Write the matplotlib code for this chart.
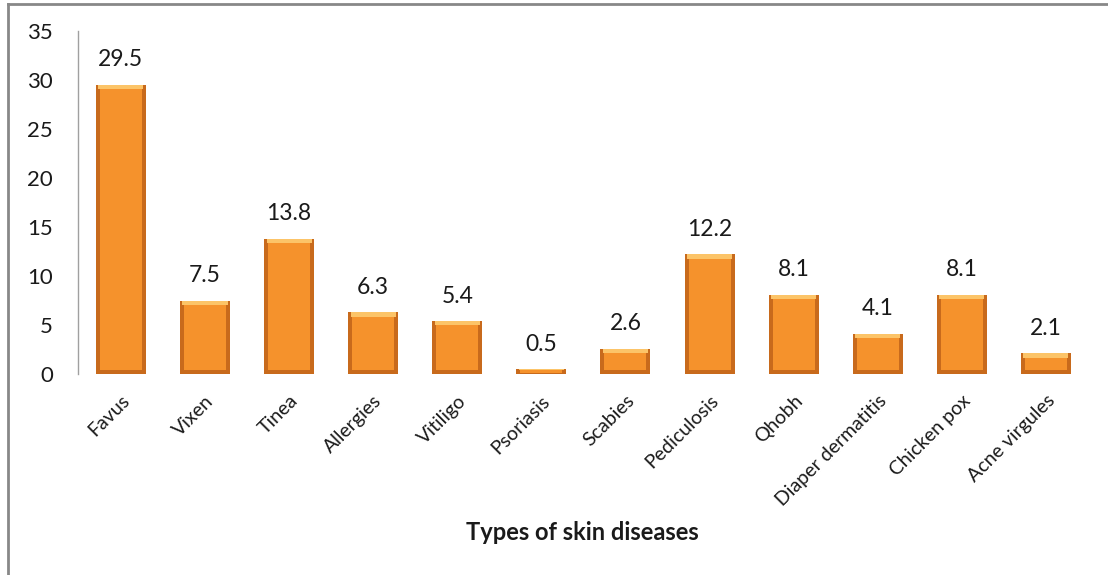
import matplotlib.pyplot as plt
import matplotlib.lines as mlines

diseases = ["Favus", "Vixen", "Tinea", "Allergies", "Vitiligo", "Psoriasis",
            "Scabies", "Pediculosis", "Qhobh", "Diaper dermatitis",
            "Chicken pox", "Acne virgules"]
percent = [29.5, 7.5, 13.8, 6.3, 5.4, 0.5, 2.6, 12.2, 8.1, 4.1, 8.1, 2.1]
y_ticks = [0, 5, 10, 15, 20, 25, 30, 35]

plt.rcParams['font.family'] = ['Lato', 'DejaVu Sans']

fig = plt.figure(figsize=(11.08, 5.75), dpi=100)
ax = fig.add_axes([78 / 1108, 1 - 374 / 575, 1010 / 1108, 343 / 575])

x = list(range(len(diseases)))
w = 0.595

# bevelled look: dark outer bar, brighter inner body, light top strip
ax.bar(x, percent, width=w, color='#C86A1C', zorder=2)
inset = [min(0.45, v * 0.25) for v in percent]
ax.bar(x, [v - 2 * s for v, s in zip(percent, inset)], bottom=inset,
       width=w * 0.84, color='#F5922C', zorder=3)
ax.bar(x, [s for s in inset], bottom=[v - s for v, s in zip(percent, inset)],
       width=w * 0.9, color='#FCC468', zorder=4)

for xi, v in zip(x, percent):
    ax.annotate(f"{v}", (xi, v), xytext=(0, 18), textcoords='offset points',
                ha='center', va='center', fontsize=16.5, color='#1a1a1a')

ax.set_xlim(-0.51, len(diseases) - 0.5)
ax.set_ylim(0, 35)
ax.set_yticks(y_ticks)
ax.tick_params(axis='y', length=0, labelsize=16, pad=18, labelcolor='#1a1a1a')
ax.set_xticks(x)
ax.set_xticklabels(diseases, rotation=45, ha='right', rotation_mode='anchor',
                   fontsize=14, color='#1a1a1a')
ax.tick_params(axis='x', length=0, pad=13)

for side in ['top', 'right', 'bottom']:
    ax.spines[side].set_visible(False)
ax.spines['left'].set_color('#a0a0a0')
ax.spines['left'].set_linewidth(1)

fig.text(582 / 1108, 1 - 532 / 575, "Types of skin diseases", ha='center',
         va='center', fontsize=17, fontweight='bold', color='#1a1a1a')

# outer frame
fig.add_artist(mlines.Line2D([8 / 1108, 1], [1 - 4 / 575, 1 - 4 / 575],
                             transform=fig.transFigure, color='#888888', lw=2))
fig.add_artist(mlines.Line2D([8 / 1108, 8 / 1108], [0, 1 - 4 / 575],
                             transform=fig.transFigure, color='#888888', lw=2))

fig.savefig("out.png", dpi=100)
